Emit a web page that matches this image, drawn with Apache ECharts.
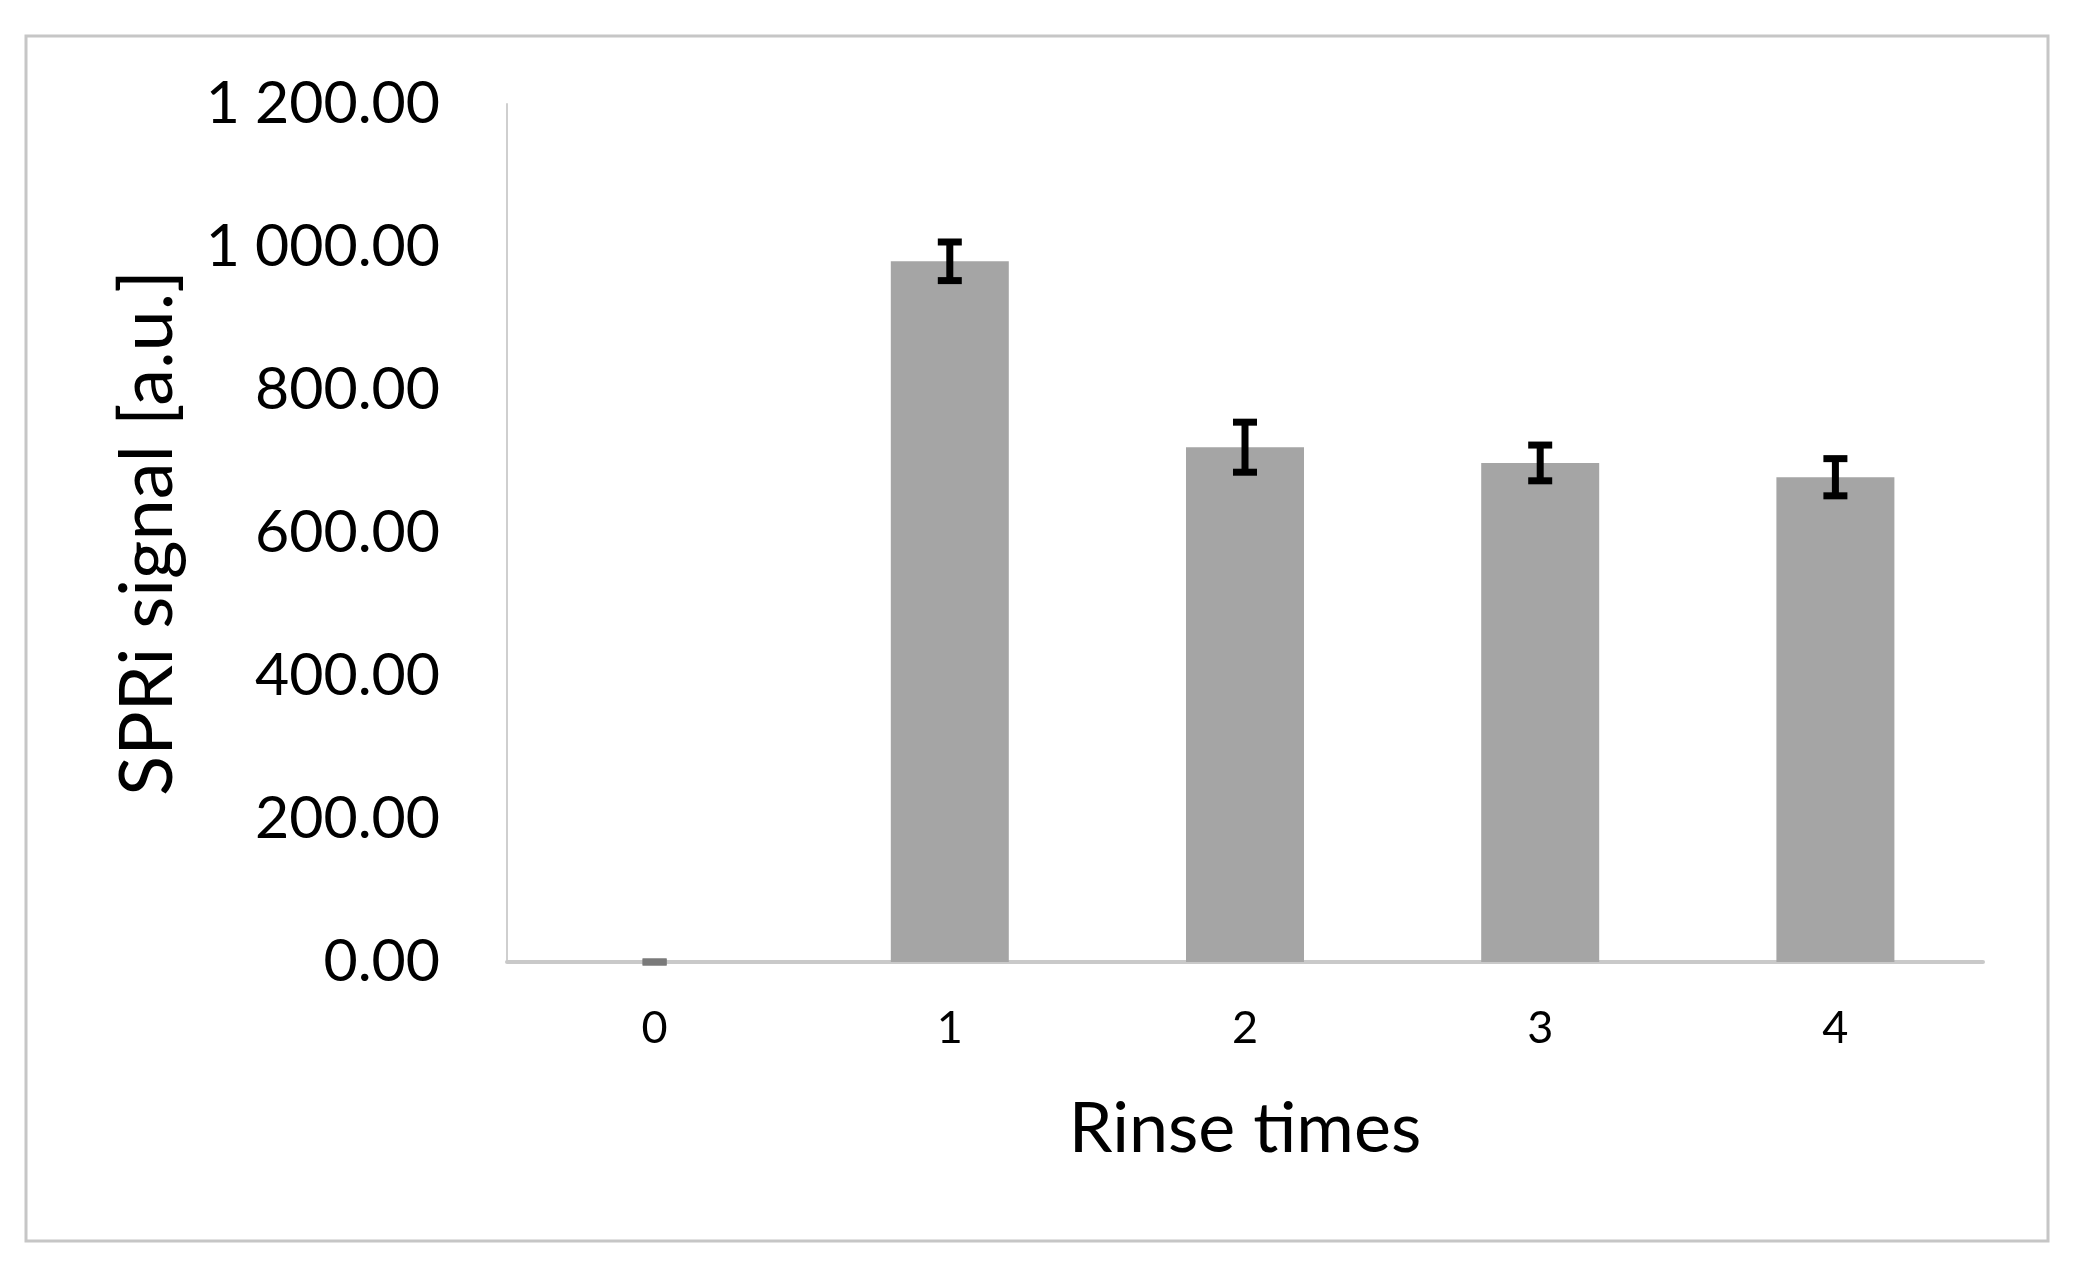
<!DOCTYPE html>
<html>
<head>
<meta charset="utf-8">
<script src="https://cdn.jsdelivr.net/npm/echarts@6/dist/echarts.min.js"></script>
<style>
html,body{margin:0;padding:0;background:#fff;}
#chart{width:2075px;height:1262px;}
</style>
</head>
<body>
<div id="chart"></div>
<script>
const categories = ['0', '1', '2', '3', '4'];
const values = [0, 980, 720, 698, 678];
const errors = [0, 27, 35, 25, 26];
const yTicks = [0, 200, 400, 600, 800, 1000, 1200];

const FONT = 'Lato';

function fmt(v) {
  const s = v.toFixed(2);
  const parts = s.split('.');
  parts[0] = parts[0].replace(/\B(?=(\d{3})+(?!\d))/g, ' ');
  return parts.join('.');
}

const chart = echarts.init(document.getElementById('chart'));
chart.setOption({
  animation: false,
  backgroundColor: '#fff',
  graphic: [{
    type: 'rect',
    shape: { x: 26, y: 36, width: 2022, height: 1205 },
    style: { fill: 'none', stroke: '#c6c6c6', lineWidth: 3 },
    z: -1
  }],
  grid: { left: 507, right: 92, top: 104, bottom: 300 },
  xAxis: {
    type: 'category',
    data: categories,
    name: 'Rinse times',
    nameLocation: 'middle',
    nameGap: 132,
    nameTextStyle: { fontFamily: FONT, fontSize: 70, color: '#000' },
    axisLine: { lineStyle: { color: '#c9c9c9', width: 4 } },
    axisTick: { show: false },
    axisLabel: { fontFamily: FONT, fontSize: 45, color: '#000', margin: 44 }
  },
  yAxis: {
    type: 'value',
    min: yTicks[0],
    max: yTicks[yTicks.length - 1],
    interval: 200,
    name: 'SPRi signal [a.u.]',
    nameLocation: 'middle',
    nameGap: 322,
    nameTextStyle: { fontFamily: FONT, fontSize: 74, color: '#000' },
    axisLine: { show: true, lineStyle: { color: '#cfcfcf', width: 2 } },
    axisTick: { show: false },
    splitLine: { show: false },
    axisLabel: {
      fontFamily: FONT, fontSize: 59, color: '#000', margin: 67,
      formatter: v => fmt(v)
    }
  },
  series: [{
    type: 'bar',
    data: values,
    barWidth: 118,
    itemStyle: { color: '#a5a5a5' },
    z: 2
  }, {
    type: 'custom',
    z: 5,
    data: values.map((v, i) => [i, v, errors[i]]),
    renderItem: function (params, api) {
      const x = api.value(0);
      const v = api.value(1);
      const e = api.value(2);
      const top = api.coord([x, v + e]);
      const bot = api.coord([x, v - e]);
      const hw = 12;
      const col = e === 0 ? '#7a7a7a' : '#000';
      const st = { stroke: col, lineWidth: 7 };
      return {
        type: 'group',
        children: [
          { type: 'line', shape: { x1: top[0], y1: top[1], x2: bot[0], y2: bot[1] }, style: st },
          { type: 'line', shape: { x1: top[0] - hw, y1: top[1], x2: top[0] + hw, y2: top[1] }, style: st },
          { type: 'line', shape: { x1: bot[0] - hw, y1: bot[1], x2: bot[0] + hw, y2: bot[1] }, style: st }
        ]
      };
    }
  }]
});
</script>
</body>
</html>
